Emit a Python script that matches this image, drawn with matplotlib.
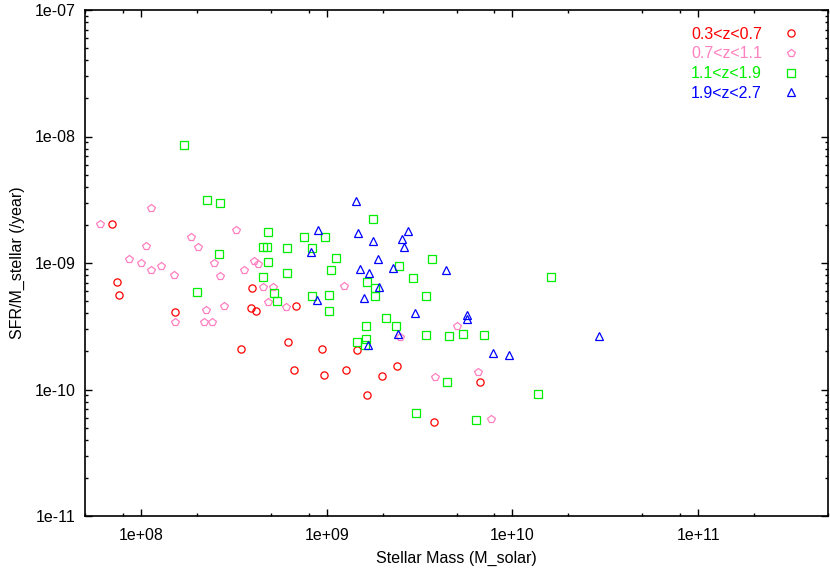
import matplotlib
matplotlib.use("Agg")
import matplotlib.pyplot as plt
from matplotlib.ticker import FixedLocator, FixedFormatter, NullFormatter

plt.rcParams['font.family'] = ['Liberation Sans', 'DejaVu Sans']

# ---- data ----
red_mass = [7.02e7, 7.40e7, 7.59e7, 1.52e8, 3.44e8, 3.97e8, 3.92e8, 4.15e8, 6.85e8, 6.23e8,
            9.48e8, 1.45e9, 6.70e8, 9.68e8, 1.27e9, 1.99e9, 2.39e9, 1.65e9, 3.78e9, 6.73e9]
red_ssfr = [2.03e-9, 7.08e-10, 5.55e-10, 4.12e-10, 2.09e-10, 6.34e-10, 4.43e-10, 4.20e-10, 4.55e-10, 2.36e-10,
            2.10e-10, 2.06e-10, 1.43e-10, 1.30e-10, 1.43e-10, 1.28e-10, 1.53e-10, 9.05e-11, 5.53e-11, 1.14e-10]

pink_mass = [6.00e7, 1.14e8, 3.23e8, 1.85e8, 2.04e8, 1.07e8, 8.59e7, 1.00e8, 1.13e8, 1.28e8,
             1.50e8, 2.47e8, 2.65e8, 3.58e8, 4.05e8, 4.26e8, 4.57e8, 5.17e8, 4.84e8, 2.24e8,
             2.79e8, 1.52e8, 2.18e8, 2.42e8, 6.05e8, 1.24e9, 5.02e9, 2.48e9, 3.83e9, 6.54e9, 7.65e9]
pink_ssfr = [2.02e-9, 2.72e-9, 1.83e-9, 1.61e-9, 1.35e-9, 1.36e-9, 1.08e-9, 9.94e-10, 8.85e-10, 9.52e-10,
             8.04e-10, 9.94e-10, 7.94e-10, 8.76e-10, 1.04e-9, 9.87e-10, 6.42e-10, 6.46e-10, 4.94e-10, 4.23e-10,
             4.60e-10, 3.42e-10, 3.42e-10, 3.42e-10, 4.47e-10, 6.58e-10, 3.19e-10, 2.60e-10, 1.26e-10, 1.38e-10, 5.88e-11]

green_mass = [1.70e8, 2.28e8, 2.65e8, 4.86e8, 4.53e8, 4.80e8, 2.62e8, 4.86e8, 4.53e8, 5.23e8,
              5.37e8, 2.00e8, 1.78e9, 7.59e8, 9.80e8, 6.15e8, 8.31e8, 1.12e9, 1.05e9, 6.15e8,
              2.46e9, 3.67e9, 2.90e9, 1.65e9, 1.83e9, 8.38e8, 1.03e9, 1.83e9, 3.44e9, 1.03e9,
              2.08e9, 1.62e9, 2.37e9, 3.42e9, 4.55e9, 5.43e9, 1.45e9, 1.62e9, 1.60e9, 4.44e9,
              3.02e9, 1.62e10, 7.02e9, 1.37e10, 6.36e9]
green_ssfr = [8.61e-9, 3.13e-9, 2.98e-9, 1.75e-9, 1.33e-9, 1.35e-9, 1.18e-9, 1.02e-9, 7.75e-10, 5.82e-10,
              5.04e-10, 5.90e-10, 2.24e-9, 1.61e-9, 1.61e-9, 1.31e-9, 1.31e-9, 1.10e-9, 8.81e-10, 8.34e-10,
              9.47e-10, 1.07e-9, 7.57e-10, 7.11e-10, 6.34e-10, 5.45e-10, 5.62e-10, 5.45e-10, 5.45e-10, 4.20e-10,
              3.67e-10, 3.18e-10, 3.19e-10, 2.70e-10, 2.65e-10, 2.75e-10, 2.39e-10, 2.51e-10, 2.25e-10, 1.14e-10,
              6.52e-11, 7.70e-10, 2.68e-10, 9.21e-11, 5.71e-11]

blue_mass = [1.43e9, 8.99e8, 1.47e9, 1.78e9, 2.75e9, 2.54e9, 2.62e9, 8.20e8, 1.89e9, 1.51e9,
             1.68e9, 2.28e9, 4.38e9, 1.92e9, 8.88e8, 1.59e9, 3.00e9, 5.68e9, 5.68e9, 2.42e9,
             1.67e9, 2.94e10, 7.84e9, 9.60e9]
blue_ssfr = [3.11e-9, 1.83e-9, 1.73e-9, 1.48e-9, 1.78e-9, 1.54e-9, 1.34e-9, 1.22e-9, 1.07e-9, 8.92e-10,
             8.34e-10, 9.08e-10, 8.81e-10, 6.46e-10, 5.10e-10, 5.26e-10, 4.05e-10, 3.85e-10, 3.64e-10, 2.76e-10,
             2.24e-10, 2.63e-10, 1.93e-10, 1.86e-10]

labels = ['0.3<z<0.7', '0.7<z<1.1', '1.1<z<1.9', '1.9<z<2.7']
xtick_vals = [1e8, 1e9, 1e10, 1e11]
xtick_labels = ['1e+08', '1e+09', '1e+10', '1e+11']
ytick_vals = [1e-11, 1e-10, 1e-9, 1e-8, 1e-7]
ytick_labels = ['1e-11', '1e-10', '1e-09', '1e-08', '1e-07']

# ---- figure ----
fig = plt.figure(figsize=(8.3, 5.72), dpi=100)
ax = fig.add_axes([85/830, 1-516/572, (828-85)/830, (516-10)/572])
ax.set_xscale('log')
ax.set_yscale('log')

series = [
    (red_mass, red_ssfr, '#ff0000', 'o', 5.2),
    (pink_mass, pink_ssfr, '#ff80c0', 'p', 5.8),
    (green_mass, green_ssfr, '#00ee00', 's', 5.2),
    (blue_mass, blue_ssfr, '#0000ff', '^', 5.2),
]
for (xs, ys, c, m, ms), lab in zip(series, labels):
    ax.plot(xs, ys, linestyle='none', marker=m, markersize=ms, mfc='none', mec=c,
            mew=0.9, label=lab)

ax.set_xlim(5e7, 5e11)
ax.set_ylim(1e-11, 1e-7)

ax.xaxis.set_major_locator(FixedLocator(xtick_vals))
ax.xaxis.set_major_formatter(FixedFormatter(xtick_labels))
xminor = [k * 10.0**e for e in range(7, 12) for k in (2, 5, 8)]
ax.xaxis.set_minor_locator(FixedLocator(xminor))
ax.xaxis.set_minor_formatter(NullFormatter())

ax.yaxis.set_major_locator(FixedLocator(ytick_vals))
ax.yaxis.set_major_formatter(FixedFormatter(ytick_labels))
yminor = [k * 10.0**e for e in range(-11, -7) for k in range(2, 10)]
ax.yaxis.set_minor_locator(FixedLocator(yminor))
ax.yaxis.set_minor_formatter(NullFormatter())

ax.tick_params(which='both', direction='in', top=True, right=True, labelsize=11.5, colors='black')
ax.tick_params(which='major', length=5, width=1.0)
ax.tick_params(which='minor', length=2.5, width=1.0)
ax.tick_params(axis='x', which='major', pad=9)
ax.tick_params(axis='y', which='major', pad=7)
for sp in ax.spines.values():
    sp.set_linewidth(1.2)

ax.set_xlabel('Stellar Mass (M_solar)', fontsize=11.5, labelpad=5)
ax.set_ylabel('SFR/M_stellar (/year)', fontsize=11.5, labelpad=7)

leg = ax.legend(loc='upper right', markerfirst=False, frameon=False, fontsize=11.5,
                labelcolor='markeredgecolor', handlelength=1.0, handletextpad=1.3,
                labelspacing=0.3, borderaxespad=0.0, borderpad=0.4,
                bbox_to_anchor=(0.969, 0.980))

fig.savefig('out.png', dpi=100)
